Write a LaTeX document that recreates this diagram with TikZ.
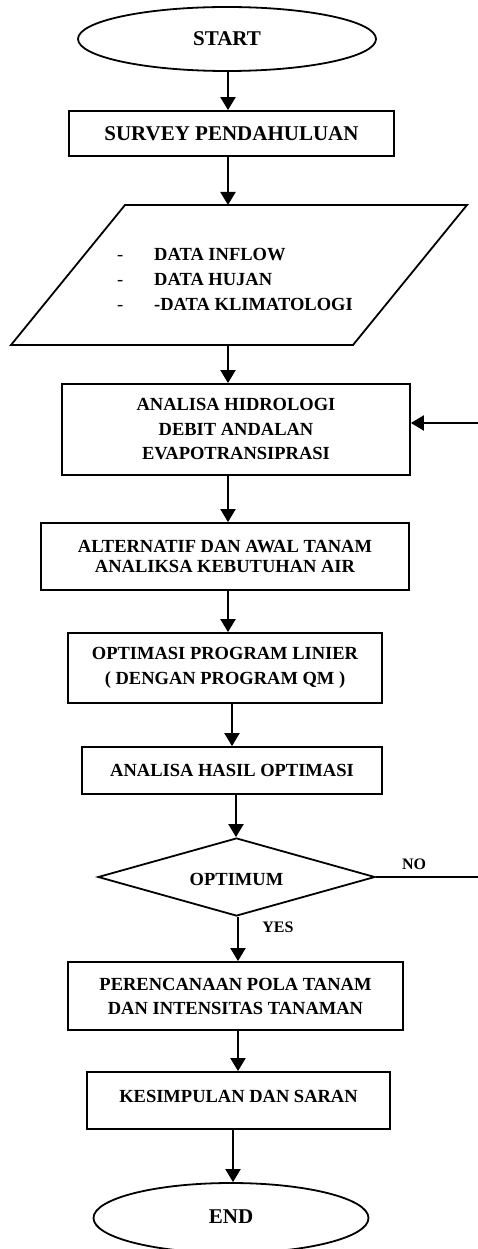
\documentclass[tikz,border=0pt]{standalone}
\usepackage{fontspec}
\setmainfont{Liberation Serif}
\usetikzlibrary{shapes.geometric,arrows.meta}
\begin{document}
\begin{tikzpicture}[x=1pt,y=-1pt,
  lw/.style={line width=1.8pt},
  arr/.style={line width=2pt,-{Triangle[width=15pt,length=13pt]}},
  plain/.style={line width=2pt},
  box/.style={draw,lw,rectangle,inner sep=0pt,align=center,font=\bfseries\fontsize{18.5}{24.5}\selectfont},
  term/.style={draw,lw,ellipse,inner sep=0pt,font=\bfseries\fontsize{21}{24}\selectfont},
  txt/.style={inner sep=0pt,align=center,font=\bfseries\fontsize{18.5}{24.5}\selectfont},
  lbl/.style={inner sep=0pt,font=\bfseries\fontsize{16}{18}\selectfont}]
\useasboundingbox (0,0) rectangle (478,1249);

% terminals
\node[term,minimum width=298pt,minimum height=64pt] (start) at (227,39) {START};
\node[term,minimum width=275pt,minimum height=70pt] (end) at (231,1218) {};
\node[inner sep=0pt,font=\bfseries\fontsize{21}{24}\selectfont] (endtxt) at (231,1217) {END};

% process boxes
\node[box,minimum width=325pt,minimum height=45pt,font=\bfseries\fontsize{21}{24}\selectfont] (survey) at (231.5,133.5) {SURVEY PENDAHULUAN};
\node[box,minimum width=348pt,minimum height=91pt] (hid) at (236,429.5) {ANALISA HIDROLOGI\\DEBIT ANDALAN\\EVAPOTRANSIPRASI};
\node[box,minimum width=368pt,minimum height=67pt,font=\bfseries\fontsize{18.5}{20.5}\selectfont] (alt) at (225,556.5) {ALTERNATIF DAN AWAL TANAM\\ANALIKSA KEBUTUHAN AIR};
\node[box,minimum width=314pt,minimum height=70pt] (opt) at (225,668) {OPTIMASI PROGRAM LINIER\\( DENGAN PROGRAM QM )};
\node[box,minimum width=300pt,minimum height=47pt] (hasil) at (232,770.5) {ANALISA HASIL OPTIMASI};
\node[draw,lw,diamond,aspect=3.55,inner sep=0pt,minimum width=277pt,minimum height=78pt,font=\bfseries\fontsize{18.5}{22}\selectfont] (dia) at (236.5,877) {};
\node[txt] (diatxt) at (236.5,879) {OPTIMUM};
\node[box,minimum width=335pt,minimum height=68pt,font=\bfseries\fontsize{18.5}{24}\selectfont] (pola) at (235.5,996) {PERENCANAAN POLA TANAM\\DAN INTENSITAS TANAMAN};
\node[box,minimum width=303pt,minimum height=57pt] (kes) at (238.5,1100.5) {};
\node[txt] (kestxt) at (238.5,1096) {KESIMPULAN DAN SARAN};

% data parallelogram
\coordinate (p1) at (125,205);
\coordinate (p2) at (467,205);
\coordinate (p3) at (353,345);
\coordinate (p4) at (11,345);
\draw[lw,line join=miter] (p1) -- (p2) -- (p3) -- (p4) -- cycle;
\coordinate (paratop) at (228,205);
\coordinate (parabot) at (228,345);
\node[txt,anchor=west,align=left,font=\bfseries\fontsize{18.5}{25}\selectfont] (data) at (117,279)
  {\makebox[37pt][l]{\mdseries -}DATA INFLOW\\\makebox[37pt][l]{\mdseries -}DATA HUJAN\\\makebox[37pt][l]{\mdseries -}-DATA KLIMATOLOGI};

% connectors
\draw[arr] ([xshift=1pt]start.south) -- ([xshift=1pt]start.south |- survey.north);
\draw[arr] ([xshift=-3.5pt]survey.south) -- (paratop);
\draw[arr] (parabot) -- (parabot |- hid.north);
\draw[arr] ([xshift=-8pt]hid.south) -- ([xshift=-8pt]hid.south |- alt.north);
\draw[arr] ([xshift=3pt]alt.south) -- ([xshift=3pt]alt.south |- opt.north);
\draw[arr] ([xshift=7pt]opt.south) -- ([xshift=7pt]opt.south |- hasil.north);
\draw[arr] ([xshift=4pt]hasil.south) -- ([xshift=4pt]hasil.south |- dia.north);
\draw[arr] ([xshift=1.5pt]dia.south) -- ([xshift=1.5pt]dia.south |- pola.north);
\draw[arr] ([xshift=2.5pt]pola.south) -- ([xshift=2.5pt]pola.south |- kes.north);
\draw[arr] ([xshift=-5.5pt]kes.south) -- ([xshift=-5.5pt]kes.south |- end.north);

% feedback
\coordinate (fbin) at (478,423);
\draw[arr] (fbin) -- (fbin -| hid.east);
\coordinate (noend) at (478,877);
\draw[plain] (dia.east) -- (noend);
\node[lbl] (no) at (414,864) {NO};
\node[lbl] (yes) at (278,927) {YES};
\end{tikzpicture}
\end{document}
